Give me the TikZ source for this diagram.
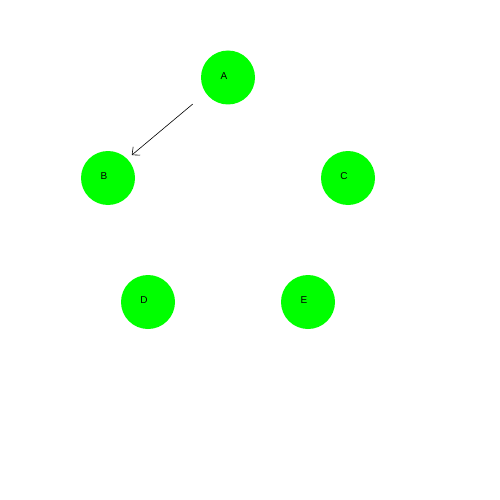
\documentclass[tikz,border=0pt]{standalone}
\usepackage{fontspec}
\setmainfont{Liberation Sans}
\usetikzlibrary{arrows.meta}
\definecolor{nodegreen}{HTML}{00FF00}
\begin{document}
\begin{tikzpicture}[x=1pt,y=-1pt,
  vert/.style={circle,fill=nodegreen,minimum size=54pt,inner sep=0pt},
  lab/.style={font=\fontsize{10}{11}\selectfont,inner sep=0pt},
  edge/.style={draw=black,line width=0.6pt,-{Straight Barb[length=6pt,width=11pt,line width=0.6pt]}}]
\useasboundingbox (0,0) rectangle (500,500);
\node[vert] (A) at (228,77.5) {};
\node[vert] (B) at (108,178) {};
\node[vert] (C) at (348,178) {};
\node[vert] (D) at (148,302) {};
\node[vert] (E) at (308,302) {};
\node[lab] at (224,76) {A};
\node[lab] at (104,176) {B};
\node[lab] at (344,176) {C};
\node[lab] at (144,300) {D};
\node[lab] at (304,300) {E};
\draw[edge,shorten <=46pt,shorten >=31pt] ([yshift=3pt]A.center) -- ([yshift=3pt]B.center);
\end{tikzpicture}
\end{document}
